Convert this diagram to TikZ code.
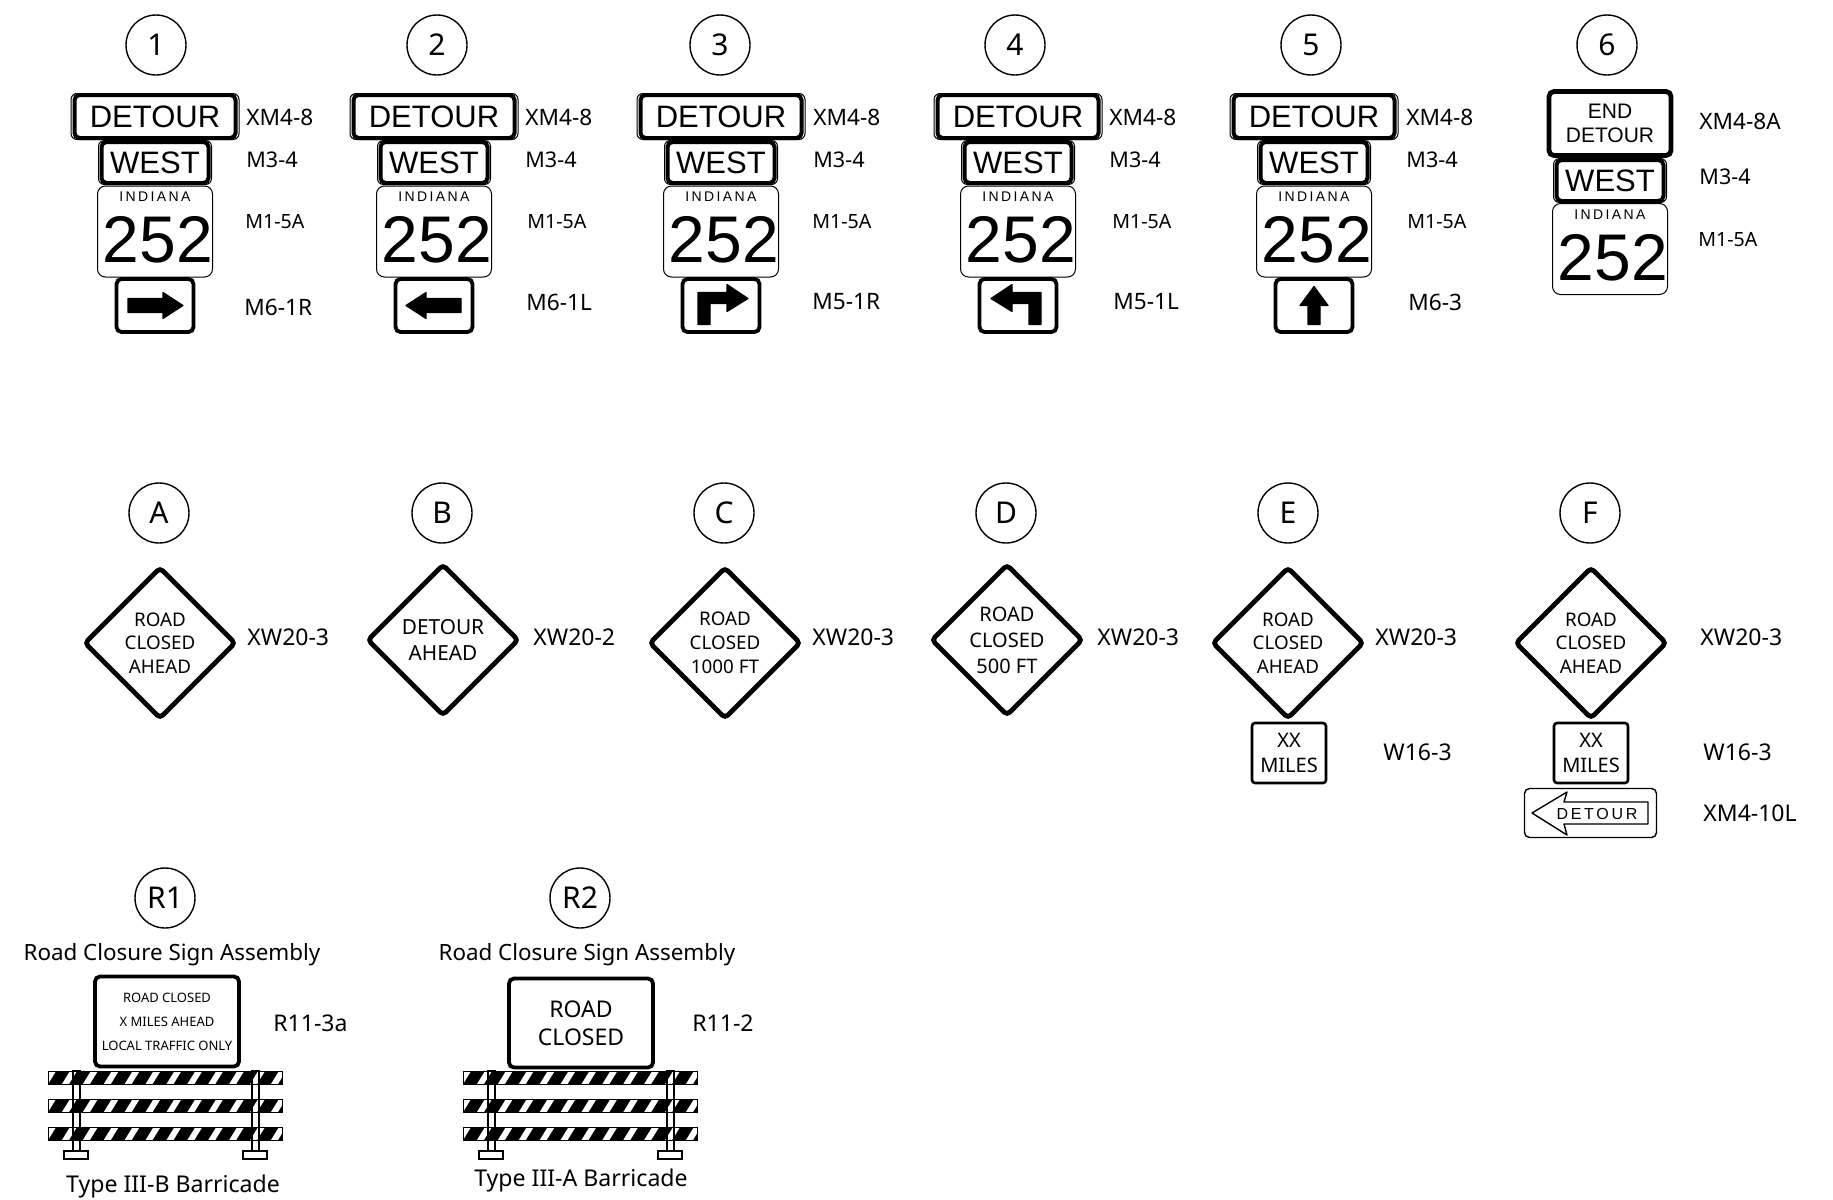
\documentclass[tikz,border=0pt]{standalone}
\usepackage{fontspec}
\setmainfont{Noto Sans}
\newfontfamily\signfont{Liberation Sans}
\newfontfamily\signwide[LetterSpace=17]{Liberation Sans}
\usetikzlibrary{shapes.geometric, positioning}
\tikzset{
  every picture/.style={x=0.5pt, y=-0.5pt},
  tag/.style={draw, circle, line width=0.7pt, minimum size=30pt, inner sep=0pt, font=\fontsize{15pt}{17pt}\selectfont},
  codea/.style={anchor=west, inner sep=0pt, font=\fontsize{11.3pt}{13pt}\selectfont},
  codeb/.style={anchor=west, inner sep=0pt, font=\fontsize{10.8pt}{13pt}\selectfont},
  codec/.style={anchor=west, inner sep=0pt, font=\fontsize{9.8pt}{12pt}\selectfont},
  codebig/.style={anchor=west, inner sep=0pt, font=\fontsize{11.5pt}{14pt}\selectfont},
  caption/.style={inner sep=0pt, font=\fontsize{11.2pt}{14pt}\selectfont},
  typename/.style={inner sep=0pt, font=\fontsize{11.55pt}{14pt}\selectfont},
  routebox/.style={draw, fill=white, line width=2pt, rounded corners=2.5pt, inner sep=0pt, align=center, font=\fontsize{15.5pt}{18pt}\selectfont\signfont},
  backbox/.style={draw, fill=white, line width=0.5pt, rounded corners=3pt, inner sep=0pt},
  detourback/.style={backbox, minimum width=84pt, minimum height=23pt},
  westback/.style={backbox, minimum width=56.5pt, minimum height=22pt},
  detourbox/.style={routebox, minimum width=80.5pt, minimum height=21.5pt},
  westbox/.style={routebox, minimum width=53.5pt, minimum height=20.5pt},
  arrowbox/.style={routebox, line width=1.9pt, minimum width=38.5pt, minimum height=26.5pt},
  shield/.style={draw, fill=white, line width=0.5pt, rounded corners=4pt, inner sep=0pt, minimum width=57.5pt, minimum height=45.5pt},
  arrowfill/.style={fill=black, draw=black, line width=0.6pt, line join=round},
  warnsign/.style={draw, fill=white, diamond, aspect=1, line width=2.4pt, rounded corners=2pt, inner sep=0pt, minimum width=76pt, minimum height=76pt},
  warntext/.style={inner sep=0pt, align=center},
  milesbox/.style={draw, fill=white, line width=1.3pt, rounded corners=1.5pt, inner sep=0pt, align=center, minimum width=37pt, minimum height=30pt, font=\fontsize{10pt}{12.3pt}\selectfont},
  rail/.style={draw, line width=0.5pt},
  post/.style={draw, fill=white, line width=0.6pt},
}
\begin{document}
\begin{tikzpicture}
  \useasboundingbox (0,0) rectangle (1833,1200);
  % ---------- numbered detour assemblies
  \foreach \n/\tx/\cx/\lx/\mx/\ax/\ay/\code in {1/156/155/246/245/244/307/M6-1R, 2/437/434/525/527/526/302/M6-1L, 3/720/721/813/812/812/302/M5-1R, 4/1015/1018/1109/1112/1113/302/M5-1L, 5/1311/1314/1406/1407/1408/302/M6-3} {
    \node[tag] (tag\n) at (\tx,45) {\n};
    \node[detourback] (back\n) at (\cx,116.5) {};
    \node[detourbox] (detour\n) at (\cx,116.5) {DETOUR};
    \node[westback] (wback\n) at (\cx,162.5) {};
    \node[westbox] (west\n) at (\cx,162.5) {WEST};
    \node[shield] (shield\n) at (\cx,231.5) {};
    \node[inner sep=0pt, font=\fontsize{7pt}{8pt}\selectfont\signwide] (state\n) at (\cx,197) {INDIANA};
    \node[inner sep=0pt, font=\fontsize{33pt}{35pt}\selectfont\signfont] (route\n) at (\cx+3,240) {252};
    \node[arrowbox] (arrow\n) at (\cx,305.5) {};
    \node[codea] (codea\n) at (\lx,117) {XM4-8};
    \node[codeb] (codeb\n) at (\lx,160) {M3-4};
    \node[codec] (codec\n) at (\mx,222) {M1-5A};
    \node[codea] (coded\n) at (\ax,\ay) {\code};
  }
  \begin{scope}[shift={(arrow1.center)}]
    \path[arrowfill] (-27,-7) -- (8,-7) -- (8,-13) -- (28,0) -- (8,13) -- (8,7) -- (-27,7) -- cycle;
  \end{scope}
  \begin{scope}[shift={(arrow2.center)}, xscale=-1]
    \path[arrowfill] (-27,-7) -- (8,-7) -- (8,-13) -- (28,0) -- (8,13) -- (8,7) -- (-27,7) -- cycle;
  \end{scope}
  \begin{scope}[shift={(arrow3.center)}]
    \path[arrowfill] (-23,19) -- (-23,-13) -- (6,-13) -- (6,-21) -- (27,-7) -- (6,6) -- (6,-2) -- (-11,-2) -- (-11,19) -- cycle;
  \end{scope}
  \begin{scope}[shift={(arrow4.center)}, xscale=-1]
    \path[arrowfill] (-23,19) -- (-23,-13) -- (6,-13) -- (6,-21) -- (27,-7) -- (6,6) -- (6,-2) -- (-11,-2) -- (-11,19) -- cycle;
  \end{scope}
  \begin{scope}[shift={(arrow5.center)}]
    \path[arrowfill] (-6,19) -- (-6,0) -- (-14,0) -- (0,-19) -- (14,0) -- (6,0) -- (6,19) -- cycle;
  \end{scope}
  % ---------- end of detour
  \node[tag] (tag6) at (1607,45) {6};
  \node[routebox, line width=2.4pt, minimum width=61pt, minimum height=32pt, font=\fontsize{10.5pt}{12pt}\selectfont\signfont] (detour6) at (1610,123.5) {END\\DETOUR};
  \node[westback] (wback6) at (1610,180.5) {};
  \node[westbox] (west6) at (1610,180.5) {WEST};
  \node[shield] (shield6) at (1610,249) {};
  \node[inner sep=0pt, font=\fontsize{7pt}{8pt}\selectfont\signwide] (state6) at (1610,214.5) {INDIANA};
  \node[inner sep=0pt, font=\fontsize{33pt}{35pt}\selectfont\signfont] (route6) at (1613,257.5) {252};
  \node[codea] (codea6) at (1699,121) {XM4-8A};
  \node[codeb] (codeb6) at (1699,177) {M3-4};
  \node[codec] (codec6) at (1698,240) {M1-5A};
  % ---------- advance warnings
  \foreach \n/\tx/\cx/\cy/\lx/\body/\fs/\ls/\code in {A/159/160/643/247/{ROAD\\CLOSED\\AHEAD}/9.4/11.9/XW20-3, B/442/443/640/533/{DETOUR\\AHEAD}/10.4/13/XW20-2, C/724/725/643/812/{ROAD\\CLOSED\\1000 FT}/9.4/11.9/XW20-3, D/1006/1007/640/1097/{ROAD\\CLOSED\\500 FT}/10/13/XW20-3, E/1288/1288/643/1375/{ROAD\\CLOSED\\AHEAD}/9.4/11.9/XW20-3, F/1590/1591/643/1700/{ROAD\\CLOSED\\AHEAD}/9.4/11.9/XW20-3} {
    \node[tag] (tag\n) at (\tx,513) {\n};
    \node[warnsign] (warn\n) at (\cx,\cy) {};
    \node[warntext, font=\fontsize{\fs pt}{\ls pt}\selectfont] (text\n) at (warn\n.center) {\body};
    \node[codebig] (code\n) at (\lx,637) {\code};
  }
  \node[milesbox] (milesE) at (1289,753) {XX\\MILES};
  \node[codebig] (codeme) at (1383,752) {W16-3};
  \node[milesbox] (milesF) at (1591,753) {XX\\MILES};
  \node[codebig] (codemf) at (1703,752) {W16-3};
  \node[draw, line width=0.7pt, rounded corners=2.5pt, minimum width=66pt, minimum height=24.5pt, inner sep=0pt] (plate) at (1590.5,813) {};
  \draw[line width=0.7pt, line join=round] (1532,813) -- (1567,792) -- (1564,802) -- (1648,802) -- (1648,824) -- (1564,824) -- (1567,835) -- cycle;
  \node[inner sep=0pt, font=\fontsize{8pt}{10pt}\selectfont\signwide] (platetext) at (1597,814) {DETOUR};
  \node[codebig] (codeplate) at (1703,813) {XM4-10L};
  % ---------- road closures
  \foreach \bx in {0,415} {
    \foreach \px in {73,252} {
      \draw[post] ({\bx+\px},1071) rectangle ({\bx+\px+7},1151);
      \draw[post] ({\bx+\px-9},1151) rectangle ({\bx+\px+15},1159);
    }
    \foreach \ry in {1071,1099,1127} {
      \begin{scope}
        \clip ({\bx+48},\ry) rectangle ({\bx+282},\ry+13);
        \fill ({\bx+48},\ry) rectangle ({\bx+282},\ry+13);
        \foreach \i in {-1,...,11} \fill[white] ({\bx+62+20.9*\i},\ry+13) -- ({\bx+69+20.9*\i},\ry+13) -- ({\bx+77+20.9*\i},\ry) -- ({\bx+70+20.9*\i},\ry) -- cycle;
      \end{scope}
      \draw[rail] ({\bx+48},\ry) rectangle ({\bx+282},\ry+13);
    }
    \foreach \px in {73,252} \draw[line width=0.6pt] ({\bx+\px},1071) rectangle ({\bx+\px+7},1151);
  }
  \node[tag] (tagR1) at (165,898) {R1};
  \node[caption] (titleR1) at (172,955) {Road Closure Sign Assembly};
  \node[routebox, line width=1.9pt, minimum width=72pt, minimum height=45pt, font=\fontsize{6.5pt}{12pt}\selectfont] (closeda) at (167,1021.5) {ROAD CLOSED\\X MILES AHEAD\\LOCAL TRAFFIC ONLY};
  \node[codebig] (codeR1) at (273,1023) {R11-3a};
  \node[typename] (typeR1) at (173,1186) {Type III-B Barricade};
  \node[tag] (tagR2) at (580,898) {R2};
  \node[caption] (titleR2) at (587,955) {Road Closure Sign Assembly};
  \node[routebox, line width=1.9pt, minimum width=72pt, minimum height=44.5pt, font=\fontsize{11.5pt}{14pt}\selectfont] (closedb) at (581,1023) {ROAD\\CLOSED};
  \node[codebig] (codeR2) at (692,1023) {R11-2};
  \node[typename] (typeR2) at (581,1180) {Type III-A Barricade};
\end{tikzpicture}
\end{document}
